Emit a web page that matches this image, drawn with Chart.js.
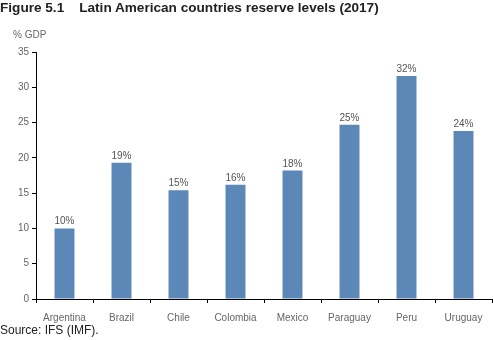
<!DOCTYPE html>
<html>
<head>
<meta charset="utf-8">
<script src="https://cdn.jsdelivr.net/npm/chart.js@4/dist/chart.umd.min.js"></script>
<style>
  html, body { margin: 0; padding: 0; background: #fff; }
  #wrap { position: relative; width: 493px; height: 340px; overflow: hidden; font-family: "Liberation Sans", Arial, sans-serif; }
  #chart { position: absolute; left: 0; top: 0; }
  .title { position: absolute; left: 0; top: 0; font-weight: bold; font-size: 13.6px; color: #222; white-space: nowrap; line-height: 15px; }
  .title .num { margin-right: 15px; }
  .unit { position: absolute; left: 13px; top: 29px; font-size: 10px; color: #666; line-height: 12px; }
  .source { position: absolute; left: 0; top: 323px; font-size: 12px; color: #222; line-height: 14px; }
</style>
</head>
<body>
<div id="wrap">
  <canvas id="chart" width="493" height="340"></canvas>
  <div class="title"><span class="num">Figure 5.1</span>Latin American countries reserve levels (2017)</div>
  <div class="unit">% GDP</div>
  <div class="source">Source: IFS (IMF).</div>
</div>
<script>
// Reserve levels as a share of GDP, 2017
const countries = ['Argentina', 'Brazil', 'Chile', 'Colombia', 'Mexico', 'Paraguay', 'Peru', 'Uruguay'];
const reserves = [10.0, 19.3, 15.4, 16.2, 18.2, 24.7, 31.6, 23.8];
const yTicks = [0, 5, 10, 15, 20, 25, 30, 35];

const barColor = '#5b88b7';
const textGrey = '#666';

// Writes the rounded value above each bar
const valueLabels = {
  id: 'valueLabels',
  afterDatasetsDraw(chart) {
    const ctx = chart.ctx;
    const meta = chart.getDatasetMeta(0);
    ctx.save();
    ctx.font = '10px "Liberation Sans", Arial, sans-serif';
    ctx.fillStyle = '#555';
    ctx.textAlign = 'center';
    ctx.textBaseline = 'alphabetic';
    meta.data.forEach((bar, i) => {
      ctx.fillText(Math.round(reserves[i]) + '%', bar.x, bar.y - 4);
    });
    ctx.restore();
  }
};

new Chart(document.getElementById('chart'), {
  type: 'bar',
  data: {
    labels: countries,
    datasets: [{
      data: reserves,
      backgroundColor: barColor,
      borderWidth: 0,
      categoryPercentage: 1,
      barPercentage: 0.35
    }]
  },
  options: {
    responsive: false,
    animation: false,
    events: [],
    layout: { padding: { left: 0, right: 1, top: 52, bottom: 0 } },
    plugins: {
      legend: { display: false },
      tooltip: { enabled: false }
    },
    scales: {
      x: {
        grid: { display: true, offset: true, drawOnChartArea: false, drawTicks: true, tickLength: 4, color: '#000', lineWidth: 1 },
        border: { display: true, color: '#000', width: 1 },
        ticks: {
          color: textGrey,
          padding: 9,
          maxRotation: 0,
          autoSkip: false,
          font: { family: '"Liberation Sans", Arial, sans-serif', size: 10 }
        },
        afterFit(scale) { scale.height = 41; }
      },
      y: {
        min: 0,
        max: 35,
        afterBuildTicks(scale) { scale.ticks = yTicks.map(v => ({ value: v })); },
        grid: { display: true, drawOnChartArea: false, drawTicks: true, tickLength: 4, color: '#000', lineWidth: 1 },
        border: { display: true, color: '#000', width: 1 },
        ticks: {
          color: textGrey,
          padding: 3,
          font: { family: '"Liberation Sans", Arial, sans-serif', size: 10 }
        },
        afterFit(scale) { scale.width = 36; }
      }
    }
  },
  plugins: [valueLabels]
});
</script>
</body>
</html>
